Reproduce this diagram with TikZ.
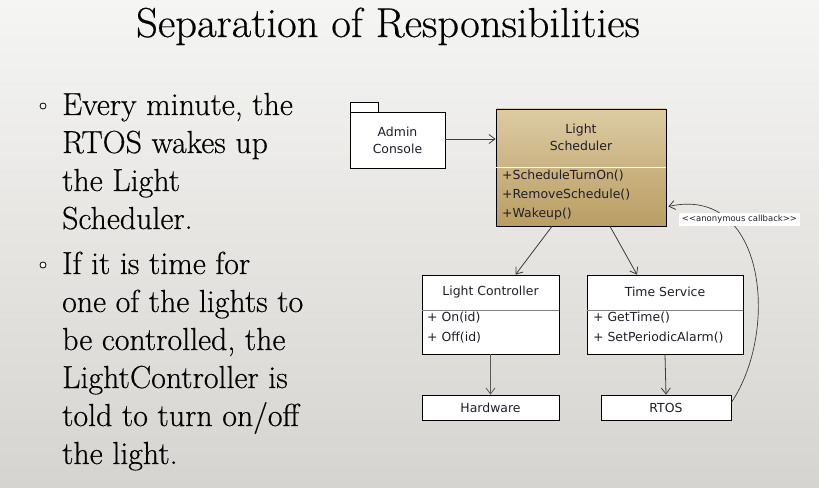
\documentclass[tikz,border=0pt]{standalone}
\usepackage{fontspec}
\newfontfamily\slidefont{Latin Modern Roman}[FakeBold=0.4]
\newfontfamily\titlefont{Latin Modern Roman}[FakeStretch=1.02,FakeBold=0.4]
\newfontfamily\umlfont{DejaVu Sans}
\usetikzlibrary{arrows.meta,calc,shadows}

\definecolor{bgtop}{HTML}{F5F5F3}
\definecolor{bgbot}{HTML}{D6D4D1}
\definecolor{goldtop}{HTML}{DCCBA2}
\definecolor{goldbot}{HTML}{BA9D63}
\definecolor{wire}{HTML}{3C3C3C}
\definecolor{ink}{HTML}{1E1E2A}

\tikzset{
  umlbox/.style={draw=black, line width=0.7bp, fill=white, inner sep=0pt,
    general shadow={fill=black, shadow xshift=1.3bp, shadow yshift=-1.3bp}},
  umltext/.style={font=\umlfont\fontsize{12.5}{17}\selectfont, text=ink, inner sep=0pt},
  umlmember/.style={umltext, anchor=base west},
  umllink/.style={draw=wire, line width=0.8bp,
    -{Straight Barb[length=6bp,width=9bp,line width=0.8bp]}},
  slidetext/.style={font=\slidefont\fontsize{32}{38}\selectfont, anchor=base west, inner sep=0pt},
  bulletdot/.style={draw=black, line width=0.8bp, fill=white, circle, minimum size=6bp, inner sep=0pt},
}

\begin{document}
\begin{tikzpicture}[x=1bp,y=-1bp]
\useasboundingbox (0,0) rectangle (819,488);
\shade[top color=bgtop, bottom color=bgbot] (0,0) rectangle (819,488);

% title
\node[font=\titlefont\fontsize{42}{42}\selectfont, anchor=base, inner sep=0pt] (title) at (388,37)
  {Separation of Responsibilities};

% bullet list
\node[bulletdot] (b1) at (43,106) {};
\node[slidetext] (l1) at (62,115) {Every minute, the};
\node[slidetext] (l2) at (62,153) {RTOS wakes up};
\node[slidetext] (l3) at (62,191) {the Light};
\node[slidetext] (l4) at (62,229) {Scheduler.};
\node[bulletdot] (b2) at (43,265) {};
\node[slidetext] (l5) at (62,274) {If it is time for};
\node[slidetext] (l6) at (62,312) {one of the lights to};
\node[slidetext] (l7) at (62,350) {be controlled, the};
\node[slidetext] (l8) at (62,388) {LightController is};
\node[slidetext] (l9) at (62,426) {told to turn on/off};
\node[slidetext] (l10) at (62,464) {the light.};

% Admin Console package
\draw[draw=black, line width=0.7bp, fill=white] (350,102) rectangle (378,112);
\node[umlbox, minimum width=95bp, minimum height=56bp] (admin) at (397.5,140) {};
\node[umltext, align=center] (admintxt) at (admin.center) {Admin\\Console};

% Light Scheduler class
\node[umlbox, minimum width=170bp, minimum height=117bp,
      top color=goldtop, bottom color=goldbot] (sched) at (581,167.5) {};
\node[umltext, align=center] (schedname) at (581,137) {Light\\Scheduler};
\draw[white, line width=0.8bp] (sched.west |- 0,167) -- (sched.east |- 0,167);
\node[umlmember] (m1) at (502,180) {+ScheduleTurnOn()};
\node[umlmember] (m2) at (502,199) {+RemoveSchedule()};
\node[umlmember] (m3) at (502,218) {+Wakeup()};

% Light Controller class
\node[umlbox, minimum width=137bp, minimum height=79bp] (lc) at (490.5,314.5) {};
\node[umltext] (lcname) at (490.5,292) {Light Controller};
\draw[gray, line width=0.6bp] (lc.west |- 0,310) -- (lc.east |- 0,310);
\node[umlmember] (m4) at (427,322) {+ On(id)};
\node[umlmember] (m5) at (427,341) {+ Off(id)};

% Time Service class
\node[umlbox, minimum width=156bp, minimum height=79bp] (ts) at (665,314.5) {};
\node[umltext] (tsname) at (665,292) {Time Service};
\draw[gray, line width=0.6bp] (ts.west |- 0,310) -- (ts.east |- 0,310);
\node[umlmember] (m6) at (593,322) {+ GetTime()};
\node[umlmember] (m7) at (593,341) {+ SetPeriodicAlarm()};

% Hardware and RTOS
\node[umlbox, minimum width=137bp, minimum height=25bp] (hw) at (490.5,407.5) {};
\node[umltext] (hwtxt) at (hw.center) {Hardware};
\node[umlbox, minimum width=130bp, minimum height=25bp] (rtos) at (666,407.5) {};
\node[umltext] (rtostxt) at (rtos.center) {RTOS};

% dependencies
\draw[umllink] (admin.east |- 0,139) -- (sched.west |- 0,139);
\draw[umllink] ($(sched.south)+(-29,0)$) -- ($(lc.north)+(25,0)$);
\draw[umllink] ($(sched.south)+(29,0)$) -- ($(ts.north)+(-28,0)$);
\draw[umllink, draw=gray!70!black] (lc.south) -- (hw.north);
\draw[umllink] (ts.south) -- (rtos.north);

% callback from RTOS back to the scheduler
\coordinate (cbstart) at ($(rtos.east)+(0,-5)$);
\coordinate (cbend) at ($(sched.east)+(2,39)$);
\draw[umllink, line width=0.7bp] (cbstart) .. controls (780,330) and (765,185) .. (cbend);
\node[fill=white, inner xsep=3bp, inner ysep=2.5bp, font=\umlfont\fontsize{8.5}{9}\selectfont, text=ink]
  (cblabel) at (739.5,219.5) {<{}<anonymous callback>{}>};
\end{tikzpicture}
\end{document}
